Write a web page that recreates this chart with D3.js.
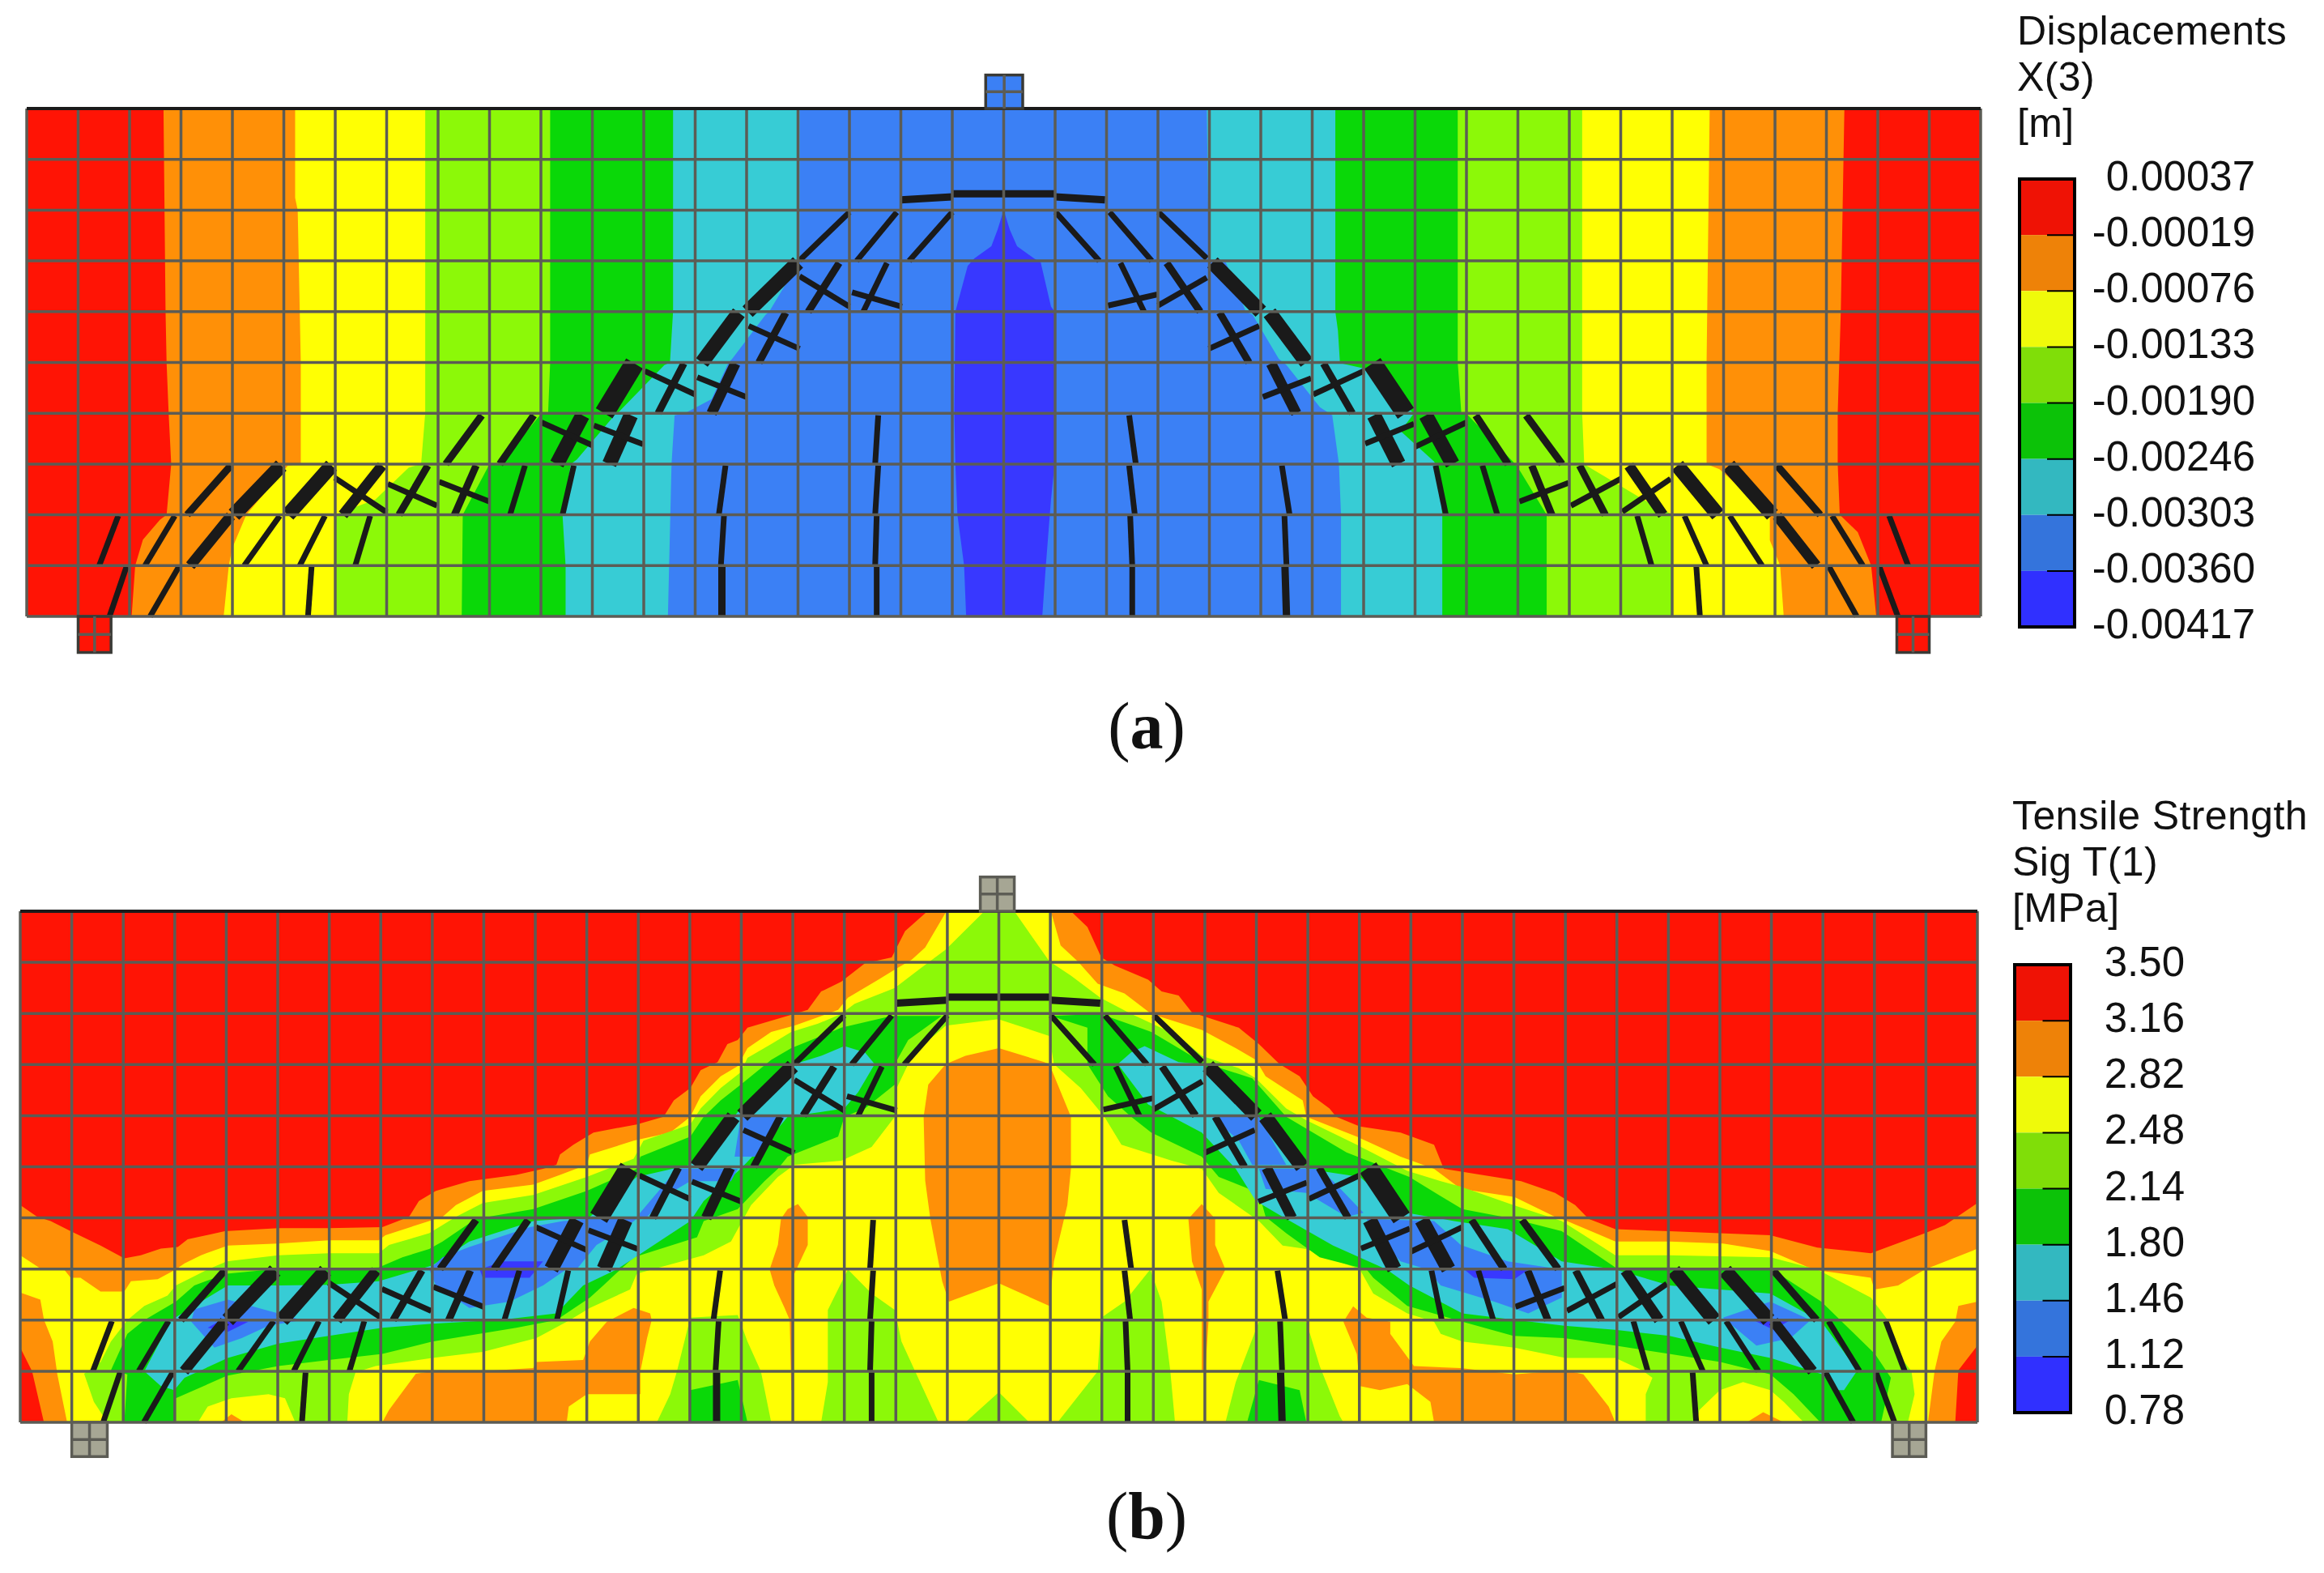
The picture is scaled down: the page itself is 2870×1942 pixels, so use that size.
<!DOCTYPE html>
<html>
<head>
<meta charset="utf-8">
<script src="https://cdn.jsdelivr.net/npm/d3@7"></script>
<style>
html, body { margin: 0; background: #fff; }
text { font-family: "Liberation Sans", Arial, sans-serif; fill: #111; }
.caption { font-family: "Liberation Serif", serif; font-size: 82px; }
</style>
</head>
<body>
<div id="chart"></div>
<script>
const bandColors = ["#ff1405", "#ff9007", "#ffff03", "#8cf908", "#0ad808", "#37ccd5", "#3b80f5", "#3838ff"];
const legendColors = ["#ef1205", "#ee8208", "#effa0a", "#80de08", "#0cc208", "#33b8c0", "#3474dc", "#3030ff"];
const displacementTicks = ["0.00037", "-0.00019", "-0.00076", "-0.00133", "-0.00190", "-0.00246", "-0.00303", "-0.00360", "-0.00417"];
const strengthTicks = ["3.50", "3.16", "2.82", "2.48", "2.14", "1.80", "1.46", "1.12", "0.78"];
const displacementTitle = ["Displacements", "X(3)", "[m]"];
const strengthTitle = ["Tensile Strength", "Sig T(1)", "[MPa]"];

// contour outlines, in element units: x 0-38, y 0-10 from the top
const dispOrange = [[2.66,0],[2.7,4],[2.72,5],[2.76,6],[2.81,7],[2.72,8],[2.59,8.1],[2.26,8.49],[2.11,9],[2.04,10],[35.97,10],[35.87,9],[35.61,8.34],[35.26,8],[35.22,7],[35.22,6],[35.28,4],[35.35,0]];
const dispYellow = [[5.22,0],[5.22,1.76],[5.27,2],[5.33,5],[5.33,7],[5.08,7.03],[4.27,8],[4,8.65],[3.93,9],[3.83,10],[34.17,10],[34.1,9],[33.9,8.5],[33.9,8],[32.92,7.1],[32.67,7],[32.67,5],[32.73,0]];
const dispLime = [[7.75,0],[7.75,6],[7.67,7],[7.43,7.07],[6.78,7.7],[5.99,8],[5.99,10],[32.01,10],[32.01,8],[31.44,7.7],[31.11,7.5],[30.45,7.1],[30.29,7],[30.25,6],[30.25,0]];
const dispGreen = [[10.18,0],[10.18,5],[10.14,6],[9.98,6.04],[9.2,7],[9,7],[8.48,8],[8.46,10],[29.56,10],[29.56,8],[29.05,7.15],[28.95,7],[28.03,6.04],[27.9,6],[27.83,5],[27.83,0]];
const dispCyan = [[12.57,0],[12.57,4],[12.51,5],[12.4,5.05],[11.49,6],[11.43,6.04],[10.7,6.91],[10.58,7],[10.42,8],[10.48,9],[10.48,10],[27.53,10],[27.53,8],[27.44,7.07],[27.37,6.95],[26.72,6.35],[26.98,6],[26.2,5.33],[26.07,5.13],[25.54,5.01],[25.5,4.37],[25.45,4],[25.45,0]];
const dispBlue = [[15.03,0],[15.03,3],[14.44,4],[14.37,4.06],[13.72,4.93],[13.65,5],[13.32,5.72],[12.8,6],[12.6,6.04],[12.54,7],[12.47,10],[25.56,10],[25.56,8],[25.52,7],[25.39,6.04],[25.15,5.88],[24.5,5.05],[24.35,4.93],[23.84,4.06],[23.71,4],[23.32,3.03],[22.99,3],[22.95,0]];
const dispDeep = [[19,2],[18.88,2.39],[18.76,2.71],[18.43,2.95],[18.3,3.1],[18.06,4],[18.04,6],[18.06,7],[18.1,8],[18.23,9],[18.27,10],[19.75,10],[19.82,9],[19.92,7.7],[19.99,7],[19.99,4],[19.92,3.9],[19.72,3.03],[19.59,2.95],[19.26,2.71],[19.12,2.39]];

const strOrange = [[0,5.75],[.33,5.98],[.59,6.06],[.98,6.26],[1.56,6.54],[2.02,6.79],[2.34,6.73],[2.73,6.6],[3.06,6.57],[3.25,6.42],[3.97,6.26],[5.01,6.2],[5.99,6.2],[7.03,6.18],[7.55,5.98],[7.74,5.67],[8.07,5.47],[8.72,5.28],[9.63,5.16],[10.15,5.04],[10.41,4.96],[10.48,4.76],[10.74,4.57],[11.13,4.33],[11.97,4.17],[12.49,4.02],[12.69,3.7],[13.01,3.46],[13.21,3.11],[13.54,2.95],[13.73,2.6],[13.93,2.52],[14.12,2.28],[15.03,2.01],[15.29,1.93],[15.55,1.57],[15.94,1.38],[16.4,1.02],[16.92,.905],[17.18,.39],[17.57,.04],[17.6,0],[20.4,0],[20.72,.31],[20.99,.905],[21.25,1.06],[21.9,1.34],[22.16,1.57],[22.49,1.65],[22.75,1.98],[23.66,2.28],[24.05,2.6],[24.45,2.99],[24.84,3.23],[25.1,3.62],[25.42,3.86],[25.55,4.02],[26.01,4.21],[26.8,4.33],[27.45,4.57],[27.64,5.04],[28.62,5.2],[29.14,5.28],[29.8,5.51],[30.19,5.75],[30.45,6.02],[30.97,6.22],[32.02,6.26],[33.98,6.34],[34.89,6.58],[35.93,6.69],[36.98,6.3],[37.37,6.14],[38,5.71],[38,8.5],[37.63,8.98],[37.57,10],[.46,10],[.23,9],[0,8.54]];
const strYellow = [[.91,10],[.72,9.06],[.63,8.42],[.46,7.99],[.39,7.6],[0,7.46],[0,6.73],[.39,6.99],[.85,7.01],[.98,7.17],[1.17,7.17],[1.56,7.44],[2.02,7.44],[2.15,7.24],[2.67,7.2],[3.02,7.01],[3.19,6.89],[3.51,6.73],[4.03,6.54],[5.01,6.5],[5.99,6.44],[6.96,6.44],[7.09,6.34],[7.94,6.06],[8.2,5.98],[8.46,5.75],[8.98,5.47],[9.96,5.35],[10.48,5.16],[11,4.96],[11.06,4.76],[11.91,4.49],[12.62,4.33],[13.01,4.02],[13.21,3.62],[13.6,3.23],[13.93,3.03],[14.12,2.68],[14.58,2.36],[15.03,2.24],[15.88,1.93],[16.07,1.69],[16.66,1.34],[16.98,1.14],[17.31,.945],[17.57,.71],[17.96,.04],[18,0],[20.01,0],[20.2,.67],[20.53,.98],[20.92,1.42],[21.44,1.61],[21.96,2.01],[22.94,2.32],[23.6,2.68],[23.99,2.91],[24.18,3.23],[24.9,3.7],[24.97,4.02],[25.95,4.41],[26.8,4.8],[27.45,5.04],[27.97,5.43],[29.01,5.59],[29.8,5.98],[29.93,6.02],[30.97,6.46],[32.02,6.46],[33.06,6.5],[33.98,6.65],[34.63,6.93],[34.78,7.01],[35.93,7.17],[36,7.4],[36.46,7.32],[36.98,7.01],[37.89,6.65],[38,6.6],[38,7.64],[37.63,7.72],[37.57,8.03],[37.3,8.42],[37.17,8.98],[37.04,10]];
const strOrangeCentre = [[19,2.68],[18.35,2.83],[17.97,2.99],[17.63,3.39],[17.54,4.02],[17.57,5.27],[17.67,6.02],[17.9,7.24],[18.03,7.64],[19,7.28],[19.98,7.72],[20.07,6.85],[20.33,5.75],[20.4,5.04],[20.4,4.02],[19.98,2.99],[19.88,2.95]];
const strOrangeInnerL = [[15.1,5.73],[14.9,5.83],[14.77,6.02],[14.71,6.53],[14.55,7.01],[14.64,7.32],[14.84,7.76],[14.94,8],[14.97,9.37],[15.02,9.37],[15,8],[15.03,7.64],[15.03,7.09],[15.29,6.53],[15.29,5.98]];
const strOrangeInnerR = [[22.94,5.73],[22.68,6.02],[22.75,6.85],[22.94,7.4],[22.94,8.98],[23.01,8.98],[23.07,8.03],[23.07,7.64],[23.4,7.01],[23.2,6.53],[23.2,6.02]];
const strOrangeBaseL = [[11.91,7.76],[12.23,7.87],[12.26,8],[12.17,8.35],[12.04,9],[12.04,9.45],[11,9.45],[10.65,9.69],[10.61,10],[7.03,10],[7.16,9.76],[7.68,9.05],[8.13,8.98],[8.91,9],[9.96,8.94],[10.02,8.82],[10.93,8.78],[11.06,8.42],[11.39,8.03]];
const strOrangeBaseR = [[25.88,7.73],[25.69,8.03],[25.95,8.66],[26.01,9.29],[26.4,9.37],[26.93,9.25],[27.38,9.6],[27.45,10],[30.97,10],[30.84,9.69],[30.35,9.06],[30,8.98],[29.01,9.06],[27.97,8.94],[27.06,8.9],[26.6,8.27],[26.6,8.03],[26.14,7.95]];
const strOrangeTipL = [[3.9,10],[4.1,9.84],[4.36,10]];
const strOrangeTipR = [[33.52,10],[33.84,9.8],[34.24,10]];

const strLime = [[1.69,10],[1.43,9.6],[1.24,9.05],[1.56,8.82],[1.76,8.42],[2.08,8],[2.41,7.72],[2.86,7.52],[3.02,7.32],[3.32,7.17],[3.64,7.01],[4.01,6.85],[5.01,6.73],[5.99,6.69],[6.96,6.69],[7.16,6.53],[7.94,6.3],[8.46,5.98],[8.98,5.71],[9.96,5.55],[11,5.2],[11.91,4.84],[12.1,4.49],[13.01,4.17],[13.21,3.86],[13.6,3.46],[13.99,3.15],[14.12,2.87],[14.58,2.6],[14.97,2.36],[15.49,2.2],[15.94,2.01],[16.2,1.81],[16.98,1.5],[17.5,1.1],[17.97,.75],[18.68,.04],[18.7,0],[19.3,0],[19.98,.98],[20.4,1.26],[20.97,1.69],[21.57,2.01],[22.49,2.44],[22.94,2.83],[23.66,3.07],[23.99,3.27],[24.58,3.86],[24.97,4.09],[25.95,4.57],[26.93,5.08],[27.58,5.28],[27.97,5.39],[28.99,5.75],[29.93,6.06],[30.97,6.73],[32.02,6.73],[33.98,6.77],[34.89,7.01],[35.93,7.56],[36.26,8],[36.52,8.74],[36.72,9],[36.78,9.45],[36.65,10],[34.63,10],[34.24,9.6],[33.98,9.37],[33.45,9.21],[33,9.37],[32.6,9.76],[32.54,10],[31.56,10],[31.56,9.45],[31.69,9.13],[31.49,8.98],[30.97,8.74],[30,8.74],[29.01,8.54],[28,8.42],[27.58,8.27],[27.45,8.03],[26.93,7.87],[26.27,7.48],[26.01,7.01],[24.97,6.61],[24.51,6.54],[24.05,6.06],[23.27,5.51],[22.94,5.04],[22.36,4.88],[21.38,4.57],[21.05,4.02],[20.59,3.46],[20.07,2.99],[19.98,2.44],[18.99,2.11],[17.97,2.24],[17.5,2.64],[17.24,2.99],[16.98,3.54],[16.98,4.02],[16.53,4.61],[15.94,4.88],[15.03,4.96],[14.71,5.2],[14.19,5.75],[13.8,6.46],[13.27,6.73],[11.97,7.09],[11.84,7.4],[11.06,7.76],[10.67,8],[10.02,8.35],[8.98,8.62],[8,8.74],[6.9,8.9],[6.51,9.02],[6.38,9.45],[6.35,10],[5.34,10],[5.14,9.53],[4.82,9.45],[4.1,9.53],[3.64,9.69],[3.45,10]];
const strLimeA = [[13.01,7.95],[13.93,7.9],[14.12,8.42],[14.38,9],[14.58,10],[12.36,10],[12.62,9.45],[12.75,9]];
const strLimeB = [[16.07,7.01],[16.53,7.48],[16.98,7.8],[17.11,8.42],[17.83,10],[15.55,10],[15.68,9.21],[15.68,7.8]];
const strLimeC = [[18.35,10],[19,9.41],[19.59,10]];
const strLimeD = [[21.94,7.01],[21.44,7.64],[20.99,7.95],[20.92,9],[20.14,10],[22.42,10],[22.33,9],[22.16,7.64]];
const strLimeE = [[24.05,8.03],[24.97,8.03],[25.23,8.9],[25.62,9.88],[25.69,10],[23.4,10],[23.6,9.21]];

const strGreenL = [[2.02,10],[2.08,9.06],[1.76,8.98],[2.08,8.27],[2.41,8],[3.02,7.64],[3.38,7.32],[4.01,7.09],[5.08,6.99],[5.99,6.99],[6.96,6.97],[7.42,6.77],[7.94,6.61],[8.2,6.46],[8.85,6.02],[9.96,5.83],[11,5.47],[11.97,5.04],[12.04,4.8],[13.01,4.41],[13.27,4.02],[13.6,3.7],[13.99,3.39],[14.58,2.91],[14.97,2.68],[15.94,2.28],[16.92,2.05],[17.89,2.05],[17.24,2.52],[16.98,2.99],[16.98,3.39],[16.4,3.86],[16,4.02],[15.88,4.41],[14.9,4.8],[14.71,5.04],[14.45,5.28],[13.93,5.83],[13.27,6.06],[13.14,6.38],[11.91,6.77],[11.32,7.32],[11.06,7.56],[10.41,8],[9.63,8.15],[8,8.42],[7.03,8.66],[5.99,8.78],[5.01,8.9],[4.01,9.09],[3.02,9.53],[3.02,10]];
const strGreenR = [[20.01,2.05],[20.97,2.01],[21.96,2.36],[22.49,2.68],[22.94,2.95],[23.92,3.27],[24.58,4.02],[25.75,4.72],[26.97,5.2],[28,5.83],[28.99,6.02],[29.93,6.26],[30.97,6.97],[32.02,6.97],[33.98,6.99],[34.97,7.64],[36.01,8.66],[36.32,9.13],[36.13,10],[34.95,10],[34.43,9.45],[33.98,9.06],[33.01,8.82],[32.02,8.66],[30.97,8.5],[29.98,8.35],[28.99,8.31],[28,8.03],[26.93,7.72],[26.27,7.17],[26.14,7.01],[25.23,6.77],[24.58,6.3],[24.18,5.98],[24.05,5.51],[23.27,5.2],[22.94,4.8],[21.96,4.33],[21.57,4.02],[21.12,3.62],[20.72,2.99],[20.72,2.28]];
const strGreenA = [[13.01,9.37],[13.93,9.17],[14.12,10],[13.01,10]];
const strGreenE = [[24.05,9.17],[24.84,9.37],[24.97,10],[23.82,10]];

const strCyanL = [[2.93,8],[2.41,9],[2.73,9.29],[2.99,9.37],[3.19,9.13],[4.03,8.74],[5.01,8.46],[5.99,8.31],[7.03,8.15],[8,8.07],[9.37,7.99],[10.41,7.87],[10.93,7.32],[11.58,7.01],[13.01,6.06],[13.27,5.67],[13.99,5.04],[14.58,4.41],[14.9,4.02],[16,3.86],[16.27,3.54],[16.59,2.99],[16.4,2.76],[16,2.64],[15.55,2.83],[15.03,2.99],[13.99,3.86],[13.73,4.17],[13.01,4.96],[11.97,5.2],[11.06,5.98],[9.96,6.06],[8.72,6.46],[8,6.93],[6.96,7.24],[5.99,7.31],[5.01,7.32],[4.03,7.32],[3.38,7.72]];
const strCyanR = [[21.57,2.76],[21.83,2.64],[22.49,2.95],[22.94,2.99],[23.66,3.7],[24,4.02],[24.51,4.41],[24.97,5.04],[26.01,5.2],[26.8,5.88],[27.84,6.06],[28.88,6.22],[29.93,6.85],[30.97,7.01],[32.02,7.32],[33.98,7.48],[34.97,8.03],[35.67,8.98],[35.41,9.37],[35.28,9.37],[34.99,9.06],[33.98,8.74],[33.01,8.54],[32.02,8.31],[30.97,8.19],[29.98,8.11],[28.99,7.99],[28,7.87],[26.97,7.32],[26.53,7.01],[25.49,6.54],[24.51,5.98],[23.99,5.67],[23.6,5.04],[22.94,4.33],[22.36,4.02],[21.9,3.78],[21.31,2.99]];

const strBlueL1 = [[13.99,4.02],[14.84,4.02],[14.32,4.8],[13.87,4.8]];
const strBlueL2 = [[12.75,5.04],[13.93,5.04],[13.8,5.28],[13.01,5.28],[12.62,5.51],[12.17,5.98],[11.97,5.98],[12.43,5.43]];
const strBlueL3 = [[7.94,7.01],[8.2,6.77],[8.72,6.57],[9.89,6.18],[10.54,6.06],[11.06,6.02],[11.97,6.02],[11.71,6.22],[11.19,6.53],[10.8,7.01],[10.6,7.01],[10.15,7.32],[9.5,7.64],[8.72,7.76],[8.07,7.32]];
const strBlueL4 = [[4.03,7.6],[5.01,7.87],[5.47,8],[4.82,8.11],[4.3,8.35],[3.77,8.54],[3.32,8.03],[3.38,7.79]];
const strBlueR1 = [[23.14,4.02],[24.05,4.02],[24.58,4.96],[23.92,4.96],[23.66,4.49]];
const strBlueR2 = [[24.05,5.04],[25.23,5.04],[25.49,5.28],[26.08,5.9],[25.75,5.98],[24.97,5.51],[24.18,5.43]];
const strBlueR3 = [[26.14,6.02],[27.45,6.06],[27.97,6.53],[28.88,6.85],[29.93,7.01],[29.93,7.56],[29.28,7.87],[28.62,7.64],[27.58,7.32],[27.32,7.01],[26.8,6.85],[26.27,6.3]];
const strBlueR4 = [[33.06,7.95],[33.98,7.64],[34.76,8],[34.37,8.35],[33.71,8.5]];

const strDeepL1 = [[9.37,6.85],[10.15,6.85],[9.89,7.17],[8.98,7.17],[8.92,7.01]];
const strDeepL2 = [[3.9,8],[4.43,8.03],[4.03,8.23],[3.64,8.15]];
const strDeepR1 = [[28.04,7.01],[29.28,7.01],[29.01,7.2],[28.23,7.17]];
const strDeepR2 = [[33.65,8],[34.37,8],[34.04,8.19]];

// cracks: x1, y1, x2, y2 in element units, then opening class 1-5
const cracksLeft = [
  [17,1.8,18,1.74,2],[18,1.68,19,1.68,2],
  [16,2.04,15.03,2.99,1],[16.92,2.04,16.14,3,1],[18,2.04,17.16,3,1],
  [15,3.03,14.02,4,4],[15.8,3.04,15.2,4,2],[16.73,3.04,16.27,4,1],[15.03,3.3,16,3.9,1],[16.05,3.62,17.02,3.9,1],
  [13.85,4.02,13.13,5,4],[14.76,4.02,14.24,5,2],[14.04,4.28,15.03,4.73,1],
  [11.82,5.02,11.23,6,5],[12.78,5.02,12.28,6,2],[13.78,5.02,13.32,6,3],[12.02,5.17,13,5.63,1],[13.04,5.29,14,5.68,1],
  [8.85,6.04,8.15,7,2],[9.86,6.04,9.2,7,2],[10.81,6.04,10.31,7,4],[11.75,6.04,11.33,7,4],[10.01,6.18,11,6.63,1],[11.03,6.24,11.99,6.61,1],[16.56,6.04,16.5,7,1],
  [3.97,7.03,3.12,8,2],[4.95,7.03,4.03,8,4],[5.93,7.03,5.08,8,4],[6.91,7.03,6.15,8,3],[7.8,7.03,7.24,8,2],[8.74,7.03,8.32,8,2],[9.69,7.03,9.4,8,1],[10.64,7.03,10.42,8,1],[5.99,7.27,7,7.95,1],[7.02,7.39,7.98,7.82,1],[8.02,7.35,9,7.74,1],[13.59,7.03,13.46,8,1],[16.56,7.03,16.5,8,1],
  [1.78,8.02,1.41,9,1],[2.88,8.02,2.3,9,1],[3.97,8.02,3.18,9,3],[4.92,8.02,4.23,9,1],[5.8,8.02,5.31,9,1],[6.68,8.02,6.39,9,1],[13.56,8.02,13.5,9,1],[16.53,8.02,16.5,9,1],
  [1.94,9.02,1.61,10,1],[2.96,9.02,2.4,10,1],[5.54,9.02,5.47,10,1],[13.52,9.02,13.52,10,2],[16.53,9.02,16.53,10,1]
];
const cracksRight = [
  [19,1.68,20,1.68,2],[20,1.74,20.97,1.8,2],
  [20.01,2.04,20.86,3,1],[21.06,2.04,21.88,3,1],[22.01,2.04,22.95,2.95,1],
  [23.06,3.03,24,4,4],[22.17,3.04,22.82,4,2],[21.27,3.04,21.73,4,1],[21.03,3.88,21.99,3.66,1],[22,3.88,22.95,3.33,1],
  [24.17,4.02,24.89,5,4],[23.2,4.02,23.77,5,2],[22.99,4.73,23.97,4.28,1],
  [26.17,5.02,26.82,6,5],[24.2,5.02,24.69,6,3],[25.22,5.02,25.78,6,2],[24.04,5.68,24.98,5.31,1],[25.02,5.63,26,5.17,1],
  [26.2,6.04,26.68,7,4],[27.21,6.04,27.73,7,4],[28.18,6.04,28.81,7,2],[29.16,6.04,29.86,7,2],[26.03,6.6,26.98,6.21,1],[27,6.66,28,6.18,1],[21.44,6.04,21.57,7,1],
  [27.4,7.03,27.6,8,1],[28.31,7.03,28.6,8,1],[29.27,7.03,29.66,8,2],[30.2,7.03,30.7,8,2],[31.16,7.03,31.82,8,3],[32.1,7.03,32.89,8,4],[33.1,7.03,33.95,8,4],[34.04,7.03,34.88,8,2],[29.03,7.74,29.99,7.37,1],[30.03,7.82,31,7.29,1],[31.03,7.94,31.97,7.29,1],[24.41,7.03,24.56,8,1],[21.44,7.03,21.55,8,1],
  [31.32,8.02,31.6,9,1],[32.24,8.02,32.67,9,1],[33.12,8.02,33.75,9,1],[34.04,8.02,34.8,9,3],[35.11,8.02,35.71,9,1],[36.22,8.02,36.59,9,1],[24.46,8.02,24.5,9,1],[21.46,8.02,21.5,9,1],
  [32.47,9.02,32.54,10,1],[35.05,9.02,35.59,10,1],[36.03,9.02,36.39,10,1],[24.47,9.02,24.5,10,2],[21.5,9.02,21.5,10,1]
];

// the three steel plates, x0, x1, y0, y1 in element units, then the band they are painted with
const platesDisp = [[18.65,19.37,-.66,0,6],[1,1.64,10,10.71,0],[36.37,37,10,10.71,0]];
const platesStr = [[18.64,19.3,-.67,0,"steel"],[1,1.69,10,10.67,"steel"],[36.35,37,10,10.67,"steel"]];

const dispLayers = [[1,dispOrange],[2,dispYellow],[3,dispLime],[4,dispGreen],[5,dispCyan],[6,dispBlue],[7,dispDeep]];
const strLayers = [
  [1,strOrange],[2,strYellow],
  [1,strOrangeCentre],[1,strOrangeInnerL],[1,strOrangeInnerR],[1,strOrangeBaseL],[1,strOrangeBaseR],[1,strOrangeTipL],[1,strOrangeTipR],
  [3,strLime],[3,strLimeA],[3,strLimeB],[3,strLimeC],[3,strLimeD],[3,strLimeE],
  [4,strGreenL],[4,strGreenR],[4,strGreenA],[4,strGreenE],
  [5,strCyanL],[5,strCyanR],
  [6,strBlueL1],[6,strBlueL2],[6,strBlueL3],[6,strBlueL4],[6,strBlueR1],[6,strBlueR2],[6,strBlueR3],[6,strBlueR4],
  [7,strDeepL1],[7,strDeepL2],[7,strDeepR1],[7,strDeepR2]
];

const svgWidth = 2870;
const svgHeight = 1942;
const gridColor = "#5c5c55";
const steelColor = "#a6a694";

const svg = d3.select("#chart").append("svg")
  .attr("width", svgWidth)
  .attr("height", svgHeight)
  .style("display", "block");

const crackWidth = d3.scaleLinear().domain([1, 2, 3, 4, 5]).range([7, 9, 13, 18, 24]);

function drawPanel(opt) {
  const x = d3.scaleLinear().domain([0, 38]).range(opt.xRange);
  const y = d3.scaleLinear().domain([0, 10]).range(opt.yRange);
  const g = svg.append("g");
  const line = d3.line().x(d => x(d[0])).y(d => y(d[1]));

  g.append("rect")
    .attr("x", x(0)).attr("y", y(0))
    .attr("width", x(38) - x(0)).attr("height", y(10) - y(0))
    .attr("fill", bandColors[0]);

  g.selectAll(".band")
    .data(opt.layers)
    .enter().append("path")
    .attr("class", "band")
    .attr("d", d => line(d[1]) + "Z")
    .attr("fill", d => bandColors[d[0]]);

  g.selectAll(".crack")
    .data(cracksLeft.concat(cracksRight))
    .enter().append("line")
    .attr("class", "crack")
    .attr("x1", d => x(d[0])).attr("y1", d => y(d[1]))
    .attr("x2", d => x(d[2])).attr("y2", d => y(d[3]))
    .attr("stroke", "#1a1a1a")
    .attr("stroke-width", d => crackWidth(d[4]));

  g.selectAll(".vgrid")
    .data(d3.range(0, 39))
    .enter().append("line")
    .attr("class", "vgrid")
    .attr("x1", d => x(d)).attr("x2", d => x(d))
    .attr("y1", y(0)).attr("y2", y(10))
    .attr("stroke", gridColor).attr("stroke-width", 3.5);

  g.selectAll(".hgrid")
    .data(d3.range(0, 11))
    .enter().append("line")
    .attr("class", "hgrid")
    .attr("x1", x(0)).attr("x2", x(38))
    .attr("y1", d => y(d)).attr("y2", d => y(d))
    .attr("stroke", gridColor).attr("stroke-width", 3.5);

  // top edge comes out black in the original
  g.append("line")
    .attr("x1", x(0)).attr("x2", x(38))
    .attr("y1", y(0)).attr("y2", y(0))
    .attr("stroke", "#1a1a1a").attr("stroke-width", 4);

  const plates = g.selectAll(".plate")
    .data(opt.plates)
    .enter().append("g")
    .attr("class", "plate");
  plates.append("rect")
    .attr("x", d => x(d[0])).attr("y", d => y(d[2]))
    .attr("width", d => x(d[1]) - x(d[0]))
    .attr("height", d => y(d[3]) - y(d[2]))
    .attr("fill", d => d[4] === "steel" ? steelColor : bandColors[d[4]])
    .attr("stroke", opt.plateEdge).attr("stroke-width", 3.5);
  plates.append("line")
    .attr("x1", d => x((d[0] + d[1]) / 2)).attr("x2", d => x((d[0] + d[1]) / 2))
    .attr("y1", d => y(d[2])).attr("y2", d => y(d[3]))
    .attr("stroke", gridColor).attr("stroke-width", 3.5);
  plates.append("line")
    .attr("x1", d => x(d[0])).attr("x2", d => x(d[1]))
    .attr("y1", d => y((d[2] + d[3]) / 2)).attr("y2", d => y((d[2] + d[3]) / 2))
    .attr("stroke", gridColor).attr("stroke-width", 3.5);

  // legend
  const legend = svg.append("g");
  const legendY = d3.scaleLinear().domain([0, 8]).range(opt.legendY);
  legend.selectAll(".swatch")
    .data(legendColors)
    .enter().append("rect")
    .attr("class", "swatch")
    .attr("x", opt.legendX[0]).attr("width", opt.legendX[1] - opt.legendX[0])
    .attr("y", (_, i) => legendY(i))
    .attr("height", legendY(1) - legendY(0))
    .attr("fill", d => d);
  legend.append("rect")
    .attr("x", opt.legendX[0]).attr("width", opt.legendX[1] - opt.legendX[0])
    .attr("y", legendY(0)).attr("height", legendY(8) - legendY(0))
    .attr("fill", "none").attr("stroke", "#000").attr("stroke-width", 4);
  legend.selectAll(".tickmark")
    .data(d3.range(1, 8))
    .enter().append("line")
    .attr("class", "tickmark")
    .attr("x1", (opt.legendX[0] + opt.legendX[1]) / 2).attr("x2", opt.legendX[1])
    .attr("y1", d => legendY(d)).attr("y2", d => legendY(d))
    .attr("stroke", "#000").attr("stroke-width", 2);
  legend.selectAll(".ticklabel")
    .data(opt.ticks)
    .enter().append("text")
    .attr("class", "ticklabel")
    .attr("x", opt.labelRight)
    .attr("y", (_, i) => legendY(i) + 14)
    .attr("text-anchor", "end")
    .style("font-size", "51px")
    .text(d => d);
  legend.selectAll(".title")
    .data(opt.title)
    .enter().append("text")
    .attr("class", "title")
    .attr("x", opt.titleX)
    .attr("y", (_, i) => opt.titleY + i * opt.titleStep)
    .style("font-size", "50px")
    .style("letter-spacing", "0.4px")
    .text(d => d);

  const caption = svg.append("text")
    .attr("class", "caption")
    .attr("x", opt.captionX).attr("y", opt.captionY)
    .attr("text-anchor", "middle");
  caption.append("tspan").text("(");
  caption.append("tspan").style("font-weight", "bold").text(opt.caption);
  caption.append("tspan").text(")");
}

drawPanel({
  xRange: [33, 2446], yRange: [134, 761],
  layers: dispLayers, plates: platesDisp, plateEdge: "#3a3a36",
  legendX: [2494, 2562], legendY: [221, 774],
  ticks: displacementTicks, labelRight: 2785,
  title: displacementTitle, titleX: 2491, titleY: 55, titleStep: 57,
  caption: "a", captionX: 1416, captionY: 924
});

drawPanel({
  xRange: [25, 2442], yRange: [1125, 1756],
  layers: strLayers, plates: platesStr, plateEdge: gridColor,
  legendX: [2488, 2557], legendY: [1191, 1744],
  ticks: strengthTicks, labelRight: 2698,
  title: strengthTitle, titleX: 2485, titleY: 1024, titleStep: 57,
  caption: "b", captionX: 1416, captionY: 1899
});
</script>
</body>
</html>
